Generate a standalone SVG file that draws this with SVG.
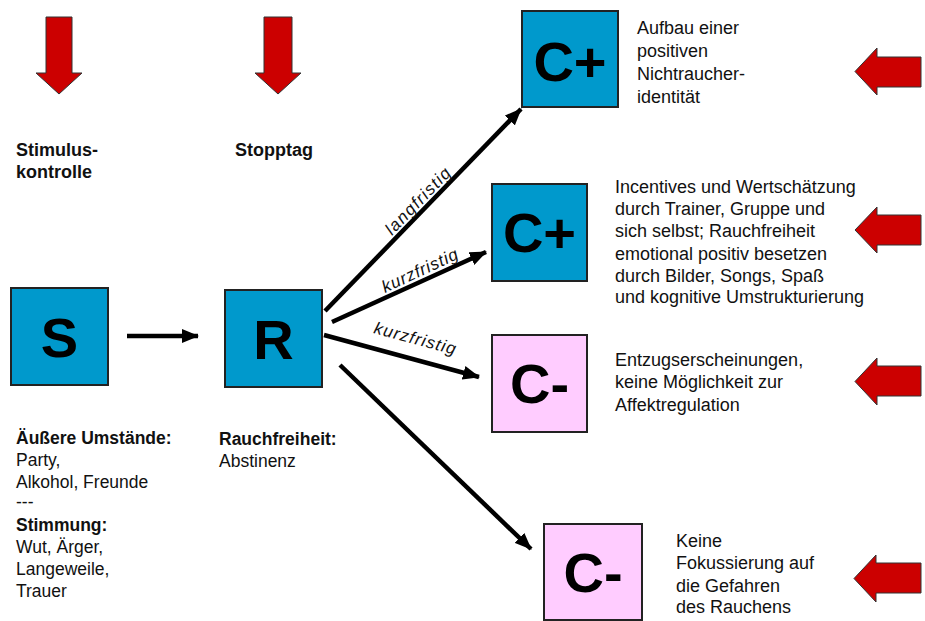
<svg xmlns="http://www.w3.org/2000/svg" width="925" height="621" viewBox="0 0 925 621">
<style>
.box{stroke:#222;stroke-width:2}
.blue{fill:#0099CC}
.pink{fill:#FFCCFF}
.big{font-family:"Liberation Sans",Arial,sans-serif;font-weight:bold;font-size:56px;fill:#000;text-anchor:middle}
.t{font-family:"Liberation Sans",Arial,sans-serif;font-size:17.5px;fill:#111}
.r{font-family:"Liberation Sans",Arial,sans-serif;font-size:18px;fill:#111}
.h{font-family:"Liberation Sans",Arial,sans-serif;font-size:18px;font-weight:bold;fill:#111}
.b{font-weight:bold}
.lbl{font-family:"Liberation Sans",Arial,sans-serif;font-style:italic;font-size:17px;fill:#111}
.red{fill:#CC0000;stroke:#333;stroke-width:1}
.con{stroke:#000;stroke-width:4.5;fill:none;marker-end:url(#ah)}
</style>
<defs>
<marker id="ah" markerUnits="userSpaceOnUse" markerWidth="18" markerHeight="14" refX="16" refY="7" orient="auto">
<path d="M0,0 L17,7 L0,14 z" fill="#000"/>
</marker>
</defs>
<rect width="925" height="621" fill="#fff"/>

<g id="arrow-down-1"><path class="red" d="M46,17 H72 V73 H82 L59,94 L36,73 H46 Z"/></g>
<g id="arrow-down-2"><path class="red" d="M264,17 H292 V73 H301 L278,94 L255,73 H264 Z"/></g>
<g id="arrow-left-1"><path class="red" d="M921,57 V87 H877 V95 L855,71.5 L877,48 V57 Z"/></g>
<g id="arrow-left-2"><path class="red" d="M921,215 V245 H877 V253 L855,230 L877,207 V215 Z"/></g>
<g id="arrow-left-3"><path class="red" d="M921,366 V396 H877 V405 L855,381.5 L877,358 V366 Z"/></g>
<g id="arrow-left-4"><path class="red" d="M921,563 V593 H876 V602 L854,578.5 L876,555 V563 Z"/></g>

<g id="label-stimulus"><text class="h" x="16" y="156">Stimulus-</text><text class="h" x="16" y="178">kontrolle</text></g>
<g id="label-stopptag"><text class="h" x="235" y="156">Stopptag</text></g>

<g id="node-S"><rect class="box blue" x="11" y="288" width="97" height="97"/><text class="big" x="59.5" y="357">S</text></g>
<g id="node-R"><rect class="box blue" x="225" y="290" width="97" height="97"/><text class="big" x="273.5" y="359">R</text></g>
<g id="node-Cplus-1"><rect class="box blue" x="522" y="11" width="96" height="96"/><text class="big" x="570" y="81">C+</text></g>
<g id="node-Cplus-2"><rect class="box blue" x="492" y="184" width="95" height="97"/><text class="big" x="539.5" y="252">C+</text></g>
<g id="node-Cminus-1"><rect class="box pink" x="492" y="335" width="95" height="97"/><text class="big" x="539.5" y="403">C-</text></g>
<g id="node-Cminus-2"><rect class="box pink" x="544" y="524" width="98" height="96"/><text class="big" x="593" y="592">C-</text></g>

<g id="text-S">
<text class="t b" x="16" y="444">Äußere Umstände:</text>
<text class="t" x="16" y="466">Party,</text>
<text class="t" x="16" y="488">Alkohol, Freunde</text>
<text class="t" x="16" y="508">---</text>
<text class="t b" x="16" y="531">Stimmung:</text>
<text class="t" x="16" y="553">Wut, Ärger,</text>
<text class="t" x="16" y="575">Langeweile,</text>
<text class="t" x="16" y="597">Trauer</text>
</g>
<g id="text-R">
<text class="t b" x="219" y="445">Rauchfreiheit:</text>
<text class="t" x="219" y="467">Abstinenz</text>
</g>
<g id="text-Cplus-1">
<text class="r" x="637" y="34">Aufbau einer</text>
<text class="r" x="637" y="57">positiven</text>
<text class="r" x="637" y="80">Nichtraucher-</text>
<text class="r" x="637" y="103">identität</text>
</g>
<g id="text-Cplus-2">
<text class="r" x="615" y="193">Incentives und Wertschätzung</text>
<text class="r" x="615" y="215">durch Trainer, Gruppe und</text>
<text class="r" x="615" y="237">sich selbst; Rauchfreiheit</text>
<text class="r" x="615" y="260">emotional positiv besetzen</text>
<text class="r" x="615" y="282">durch Bilder, Songs, Spaß</text>
<text class="r" x="615" y="303">und kognitive Umstrukturierung</text>
</g>
<g id="text-Cminus-1">
<text class="r" x="615" y="366">Entzugserscheinungen,</text>
<text class="r" x="615" y="388">keine Möglichkeit zur</text>
<text class="r" x="615" y="411">Affektregulation</text>
</g>
<g id="text-Cminus-2">
<text class="r" x="676" y="547">Keine</text>
<text class="r" x="676" y="569">Fokussierung auf</text>
<text class="r" x="676" y="592">die Gefahren</text>
<text class="r" x="676" y="613">des Rauchens</text>
</g>

<g id="connectors">
<line class="con" x1="127" y1="336" x2="198" y2="336"/>
<line class="con" x1="325" y1="311" x2="521" y2="109"/>
<line class="con" x1="332" y1="322" x2="486" y2="252"/>
<line class="con" x1="324" y1="335" x2="479" y2="377"/>
<line class="con" x1="340" y1="365" x2="531" y2="549"/>
<text class="lbl" transform="translate(392,236) rotate(-46)" textLength="86" lengthAdjust="spacing">langfristig</text>
<text class="lbl" transform="translate(385,293) rotate(-25)" textLength="82" lengthAdjust="spacing">kurzfristig</text>
<text class="lbl" transform="translate(373,333) rotate(15)" textLength="84" lengthAdjust="spacing">kurzfristig</text>
</g>
</svg>
